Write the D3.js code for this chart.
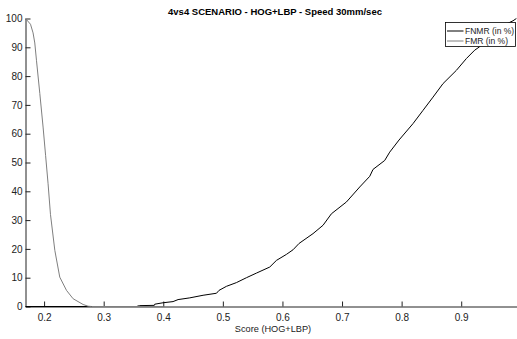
<!DOCTYPE html>
<html>
<head>
<meta charset="utf-8">
<script src="https://cdnjs.cloudflare.com/ajax/libs/d3/7.8.5/d3.min.js"></script>
<style>
  body { margin: 0; background: #fff; }
  svg { display: block; font-family: "Liberation Sans", Arial, Helvetica, sans-serif; }
</style>
</head>
<body>
<div id="chart"></div>
<script>
// values
var fnmrScore = [0.1688, 0.355, 0.36, 0.385, 0.3857, 0.3997, 0.4164, 0.4248, 0.4445, 0.4668, 0.4893, 0.4936,
  0.506, 0.5228, 0.5396, 0.5564, 0.5787, 0.5899, 0.6067, 0.6178, 0.6279, 0.6513, 0.6681, 0.6822, 0.7074,
  0.7297, 0.7465, 0.752, 0.7716, 0.78, 0.7956, 0.8191, 0.8359, 0.8527, 0.8695, 0.8919, 0.9087, 0.9226,
  0.931, 0.9423, 0.9646, 0.9869, 0.9926];
var fnmrValue = [0, 0, 0.3, 0.4, 0.8, 1.3, 1.7, 2.4, 3.0, 3.9, 4.6, 5.6,
  7.0, 8.3, 10.0, 11.6, 13.7, 16.0, 18.1, 19.7, 21.9, 25.3, 28.2, 32.2, 36.3,
  41.5, 45.2, 47.6, 50.7, 53.6, 57.8, 63.5, 68.1, 72.7, 77.4, 82.0, 86.1, 89.0,
  90.2, 93.6, 97.0, 99.2, 100];

var fmrScore = [0.1688, 0.1772, 0.1815, 0.1844, 0.1872, 0.1928, 0.1983, 0.2025, 0.2067, 0.2107,
  0.218, 0.2263, 0.2376, 0.2487, 0.2654, 0.2738, 0.28, 0.40];
var fmrValue = [100, 98, 95, 91.5, 85.5, 74, 62.3, 52.5, 42.6, 32,
  19.5, 10.2, 5.6, 2.7, 0.7, 0.1, 0, 0];

var xTicks = [0.2, 0.3, 0.4, 0.5, 0.6, 0.7, 0.8, 0.9];
var yTicks = [0, 10, 20, 30, 40, 50, 60, 70, 80, 90, 100];

var seriesNames = ["FNMR (in %)", "FMR (in %)"];
var seriesColors = ["#000000", "#7f7f7f"];

function pairUp(a, b) {
  var arr = [];
  for (var i = 0; i < a.length; i++) arr.push([a[i], b[i]]);
  return arr;
}

var width = 517, height = 339;

var x = d3.scaleLinear().domain([0.1688, 1.0]).range([25.5, 520.8]);
var y = d3.scaleLinear().domain([0, 100]).range([306.5, 18.5]);

var svg = d3.select("#chart").append("svg")
    .attr("width", width)
    .attr("height", height);

// axes, ticks pointing inward
var xAxis = svg.append("g")
    .attr("transform", "translate(0," + y(0) + ")")
    .call(d3.axisBottom(x).tickValues(xTicks).tickFormat(d3.format(".1f"))
      .tickSizeInner(-5).tickSizeOuter(0).tickPadding(7));

var yAxis = svg.append("g")
    .attr("transform", "translate(" + x.range()[0] + ",0)")
    .call(d3.axisLeft(y).tickValues(yTicks)
      .tickSizeInner(-5).tickSizeOuter(0).tickPadding(3));

[xAxis, yAxis].forEach(function(g) {
  g.selectAll("text").style("font-size", "10px").attr("fill", "#222");
  g.selectAll("line").attr("stroke", "#222");
  g.select(".domain").attr("stroke", "#222");
});

// lines
var line = d3.line()
    .x(function(d) { return x(d[0]); })
    .y(function(d) { return y(d[1]); });

svg.append("path")
    .datum(pairUp(fnmrScore, fnmrValue))
    .attr("fill", "none")
    .attr("stroke", seriesColors[0])
    .attr("stroke-width", 1)
    .attr("d", line);

svg.append("path")
    .datum(pairUp(fmrScore, fmrValue))
    .attr("fill", "none")
    .attr("stroke", seriesColors[1])
    .attr("stroke-width", 1)
    .attr("d", line);

// title
svg.append("text")
    .attr("x", 275)
    .attr("y", 14.5)
    .attr("text-anchor", "middle")
    .style("font-size", "9.5px")
    .style("font-weight", "bold")
    .text("4vs4 SCENARIO - HOG+LBP - Speed 30mm/sec");

// x axis label
svg.append("text")
    .attr("x", 273)
    .attr("y", 332)
    .attr("text-anchor", "middle")
    .style("font-size", "9.2px")
    .attr("fill", "#222")
    .text("Score (HOG+LBP)");

// legend
var legend = svg.append("g");
legend.append("rect")
    .attr("x", 445.5).attr("y", 22.5)
    .attr("width", 70).attr("height", 24)
    .attr("fill", "#fff")
    .attr("stroke", "#000")
    .attr("stroke-width", 0.8);

seriesNames.forEach(function(name, i) {
  var ly = 31 + i * 10;
  legend.append("line")
      .attr("x1", 447).attr("x2", 463.5)
      .attr("y1", ly).attr("y2", ly)
      .attr("stroke", seriesColors[i])
      .attr("stroke-width", 1);
  legend.append("text")
      .attr("x", 465).attr("y", ly + 3)
      .style("font-size", "8.5px")
      .attr("fill", "#222")
      .text(name);
});
</script>
</body>
</html>
